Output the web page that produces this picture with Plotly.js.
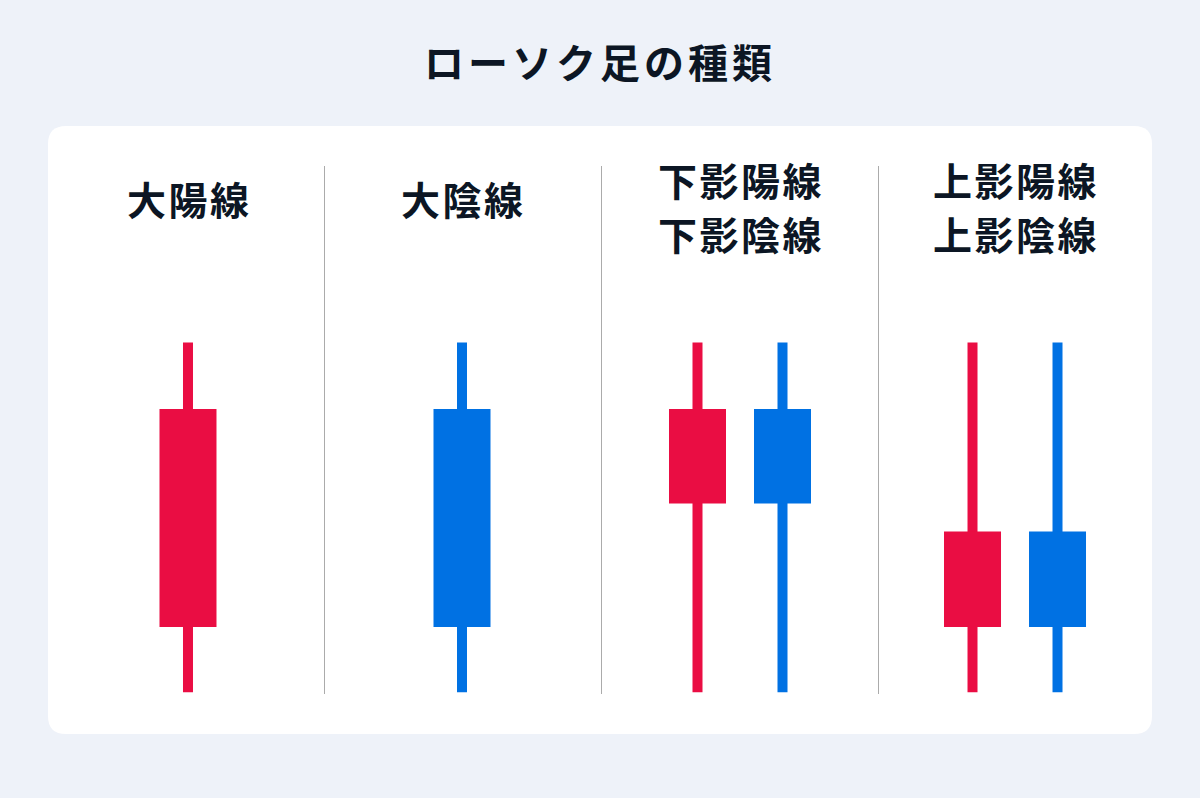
<!DOCTYPE html>
<html>
<head>
<meta charset="utf-8">
<script src="https://cdn.plot.ly/plotly-3.0.1.min.js"></script>
<style>
  html, body { margin: 0; padding: 0; background: #EEF2F9; }
  #chart { width: 1200px; height: 798px; }
  .gtitle { letter-spacing: 4px; }
  .annotation-text { letter-spacing: 2.5px; }
</style>
</head>
<body>
<div id="chart"></div>
<script>
// ---- data ----
const chartTitle = 'ローソク足の種類';
const candleNames = ['大陽線', '大陰線', '下影陽線', '下影陰線', '上影陽線', '上影陰線'];
const candleGroup = [0, 1, 2, 2, 3, 3];
const openVals  = [18.7, 81, 54, 81, 18.7, 46];
const closeVals = [81, 18.7, 81, 54, 46, 18.7];
const highVals  = [100, 100, 100, 100, 100, 100];
const lowVals   = [0, 0, 0, 0, 0, 0];

// ---- styles / layout constants ----
const UP_COLOR = '#EA0D43';
const DOWN_COLOR = '#0071E3';
const TEXT_COLOR = '#0C1624';
const FONT = '"Noto Sans CJK JP", "Noto Sans CJK SC", sans-serif';
const PX_PER_UNIT = 277;
const COLUMN_NUDGE = [0.0072, -0.0036, 0, -0.0072]; // small per-column centring tweaks
const PAIR_OFFSET = 42.5 / PX_PER_UNIT;
const BODY_WIDTH = 57 / PX_PER_UNIT;
const WICK_WIDTH = 10 / PX_PER_UNIT;
const H = 798, MT = 126, MB = 64;
const plotH = H - MT - MB;
function py(px) { return (H - MB - px) / plotH; } // pixel y -> paper y

// group sizes and x positions
const groupCount = {};
candleGroup.forEach(g => groupCount[g] = (groupCount[g] || 0) + 1);
const groupSeen = {};
const xPos = candleGroup.map(g => {
  const i = groupSeen[g] || 0; groupSeen[g] = i + 1;
  const n = groupCount[g];
  return g + COLUMN_NUDGE[g] + (n === 1 ? 0 : (i - (n - 1) / 2) * 2 * PAIR_OFFSET);
});
const colors = openVals.map((o, i) => closeVals[i] >= o ? UP_COLOR : DOWN_COLOR);

const wickTrace = {
  type: 'bar', x: xPos,
  base: lowVals, y: highVals.map((h, i) => h - lowVals[i]),
  width: xPos.map(() => WICK_WIDTH),
  marker: { color: colors, line: { width: 0 } },
  hoverinfo: 'skip', showlegend: false
};
const bodyTrace = {
  type: 'bar', x: xPos,
  base: openVals.map((o, i) => Math.min(o, closeVals[i])),
  y: openVals.map((o, i) => Math.abs(closeVals[i] - o)),
  width: xPos.map(() => BODY_WIDTH),
  marker: { color: colors, line: { width: 0 } },
  text: candleNames, textposition: 'none',
  hoverinfo: 'skip', showlegend: false
};

// headers: candle names grouped by column
const groups = [...new Set(candleGroup)];
const annotations = [];
groups.forEach(g => {
  const names = candleNames.filter((_, i) => candleGroup[i] === g);
  const ys = names.length === 1 ? [198] : [179, 232.5];
  names.forEach((nm, k) => {
    annotations.push({
      xref: 'x', yref: 'paper', x: g + COLUMN_NUDGE[g] + 1.25 / PX_PER_UNIT, y: py(ys[k]),
      xanchor: 'center', yanchor: 'middle', showarrow: false,
      text: nm,
      font: { family: FONT, size: 39, color: TEXT_COLOR, weight: 700 }
    });
  });
});

// rounded white panel
const rx = 18 / 1104, ry = 18 / plotH;
const panelPath = `M ${rx},0 L ${1 - rx},0 Q 1,0 1,${ry} L 1,${1 - ry} Q 1,1 ${1 - rx},1 L ${rx},1 Q 0,1 0,${1 - ry} L 0,${ry} Q 0,0 ${rx},0 Z`;
const shapes = [{
  type: 'path', xref: 'paper', yref: 'paper', path: panelPath,
  fillcolor: '#FFFFFF', line: { width: 0 }, layer: 'below'
}];
for (let g = 0; g < groups.length - 1; g++) {
  shapes.push({
    type: 'line', xref: 'x', yref: 'paper',
    x0: g + 0.5, x1: g + 0.5, y0: py(694), y1: py(166),
    line: { color: '#ABABAB', width: 1 }, layer: 'below'
  });
}

const layout = {
  width: 1200, height: 798,
  paper_bgcolor: '#EEF2F9', plot_bgcolor: 'rgba(0,0,0,0)',
  margin: { l: 48, r: 48, t: MT, b: MB, pad: 0 },
  title: {
    text: chartTitle, x: 0.5, xanchor: 'center',
    y: 1 - 64 / H, yref: 'container', yanchor: 'middle',
    font: { family: FONT, size: 40, color: TEXT_COLOR, weight: 700 }
  },
  barmode: 'overlay',
  xaxis: { range: [0.5 - 276.5 / PX_PER_UNIT, 0.5 + 827.5 / PX_PER_UNIT], visible: false, fixedrange: true },
  yaxis: { range: [-11.92, 161.89], visible: false, fixedrange: true },
  shapes: shapes,
  annotations: annotations,
  showlegend: false
};

Plotly.newPlot('chart', [wickTrace, bodyTrace], layout, { displayModeBar: false, staticPlot: true });
</script>
</body>
</html>
